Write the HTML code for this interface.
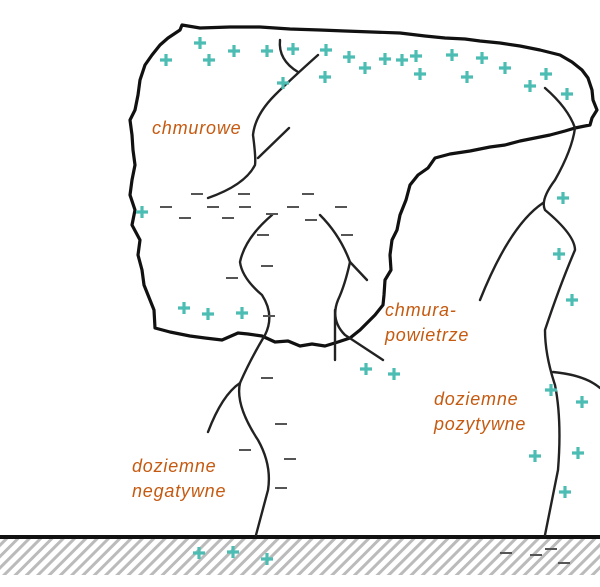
<!DOCTYPE html>
<html><head><meta charset="utf-8"><style>
html,body{margin:0;padding:0;background:#fff;}
svg{display:block;}
text{font-family:"Liberation Sans",sans-serif;font-style:italic;font-size:18px;letter-spacing:0.8px;fill:#c55a11;}
</style></head><body>
<svg width="600" height="587" viewBox="0 0 600 587" xmlns="http://www.w3.org/2000/svg">
<defs>
<pattern id="h" width="8" height="8" patternUnits="userSpaceOnUse" patternTransform="rotate(45)">
<rect width="8" height="8" fill="#fff"/><rect width="3" height="8" fill="#bbb"/>
</pattern>
<g id="p"><path d="M-6 0H6M0 -6V6" stroke="#4dbdb3" stroke-width="3.2"/></g>
<g id="m"><path d="M-6 0H6" stroke="#555" stroke-width="2"/></g>
</defs>
<rect x="0" y="538" width="600" height="37" fill="url(#h)"/>
<path d="M0 537H600" stroke="#111" stroke-width="4"/>
<path fill="none" stroke="#111" stroke-width="3.2" stroke-linejoin="round" d="M182 25 L200 28 L230 27 L260 27 L290 29 L320 30 L345 31 L372 32 L400 33 L425 36 L445 38 L465 39 L480 41 L500 43 L520 46 L540 50 L560 55 L572 62 L582 70 L588 78 L592 90 L593 100 L597 110 L592 118 L590 125 L575 128 L565 131 L550 135 L535 138 L520 141 L505 145 L490 147 L470 151 L450 154 L435 158 L428 168 L418 175 L410 185 L406 200 L400 215 L397 230 L392 240 L390 255 L391 270 L385 280 L384 295 L383 305 L375 315 L368 322 L360 330 L350 338 L338 342 L325 346 L312 344 L300 346 L288 341 L275 342 L262 336 L248 334 L238 333 L222 340 L205 338 L190 336 L170 332 L155 328 L154 310 L150 300 L144 285 L142 270 L138 255 L140 240 L132 225 L135 210 L130 195 L132 180 L135 165 L133 150 L132 135 L130 120 L135 110 L138 95 L140 80 L145 65 L152 55 L160 45 L168 38 L180 30 Z"/>
<g fill="none" stroke="#222" stroke-width="2.4" stroke-linecap="round">
<path d="M280 40 Q278 60 298 72"/>
<path d="M318 55 Q290 80 275 95 Q255 115 253 135 Q256 158 255 165 Q245 185 208 198"/>
<path d="M289 128 L258 158"/>
<path d="M272 215 Q245 238 240 262 Q242 278 262 295 Q275 315 265 335 Q250 360 240 383 Q235 405 258 440 Q272 465 268 490 L256 535"/>
<path d="M240 383 Q222 395 208 432"/>
<path d="M320 215 Q340 235 350 262 Q345 285 338 300 Q330 320 345 335 L383 360"/>
<path d="M350 262 L367 280"/>
<path d="M335 310 L335 360"/>
<path d="M545 88 Q568 108 575 128 Q572 150 555 180 Q540 200 545 210 Q575 235 575 250 Q560 285 545 330 Q545 355 555 385 Q562 420 558 470 L545 535"/>
<path d="M543 203 Q510 225 480 300"/>
<path d="M553 372 Q585 375 600 388"/>
</g>
<g>
<use href="#m" x="197" y="194"/><use href="#m" x="244" y="194"/><use href="#m" x="308" y="194"/>
<use href="#m" x="166" y="207"/><use href="#m" x="213" y="207"/><use href="#m" x="245" y="207"/><use href="#m" x="293" y="207"/><use href="#m" x="341" y="207"/>
<use href="#m" x="185" y="218"/><use href="#m" x="228" y="218"/><use href="#m" x="272" y="214"/><use href="#m" x="311" y="220"/>
<use href="#m" x="263" y="235"/><use href="#m" x="347" y="235"/><use href="#m" x="267" y="266"/><use href="#m" x="232" y="278"/><use href="#m" x="269" y="316"/>
<use href="#m" x="267" y="378"/><use href="#m" x="281" y="424"/><use href="#m" x="245" y="450"/><use href="#m" x="290" y="459"/><use href="#m" x="281" y="488"/>
<use href="#m" x="506" y="553"/><use href="#m" x="536" y="555"/><use href="#m" x="551" y="549"/><use href="#m" x="564" y="563"/>
</g>
<g>
<use href="#p" x="166" y="60"/><use href="#p" x="200" y="43"/><use href="#p" x="209" y="60"/><use href="#p" x="234" y="51"/><use href="#p" x="267" y="51"/><use href="#p" x="293" y="49"/><use href="#p" x="326" y="50"/><use href="#p" x="283" y="83"/><use href="#p" x="325" y="77"/><use href="#p" x="349" y="57"/><use href="#p" x="365" y="68"/><use href="#p" x="385" y="59"/><use href="#p" x="402" y="60"/><use href="#p" x="416" y="56"/><use href="#p" x="420" y="74"/><use href="#p" x="452" y="55"/><use href="#p" x="467" y="77"/><use href="#p" x="482" y="58"/><use href="#p" x="505" y="68"/><use href="#p" x="530" y="86"/><use href="#p" x="546" y="74"/><use href="#p" x="567" y="94"/>
<use href="#p" x="142" y="212"/><use href="#p" x="184" y="308"/><use href="#p" x="208" y="314"/><use href="#p" x="242" y="313"/>
<use href="#p" x="563" y="198"/><use href="#p" x="559" y="254"/><use href="#p" x="572" y="300"/>
<use href="#p" x="366" y="369"/><use href="#p" x="394" y="374"/><use href="#p" x="551" y="390"/><use href="#p" x="582" y="402"/><use href="#p" x="535" y="456"/><use href="#p" x="578" y="453"/><use href="#p" x="565" y="492"/>
<use href="#p" x="199" y="553"/><use href="#p" x="233" y="552"/><use href="#p" x="267" y="559"/>
</g>
<text x="152" y="134">chmurowe</text>
<text x="385" y="316">chmura-</text>
<text x="385" y="341">powietrze</text>
<text x="434" y="405">doziemne</text>
<text x="434" y="430">pozytywne</text>
<text x="132" y="472">doziemne</text>
<text x="132" y="497">negatywne</text>
</svg>
</body></html>
